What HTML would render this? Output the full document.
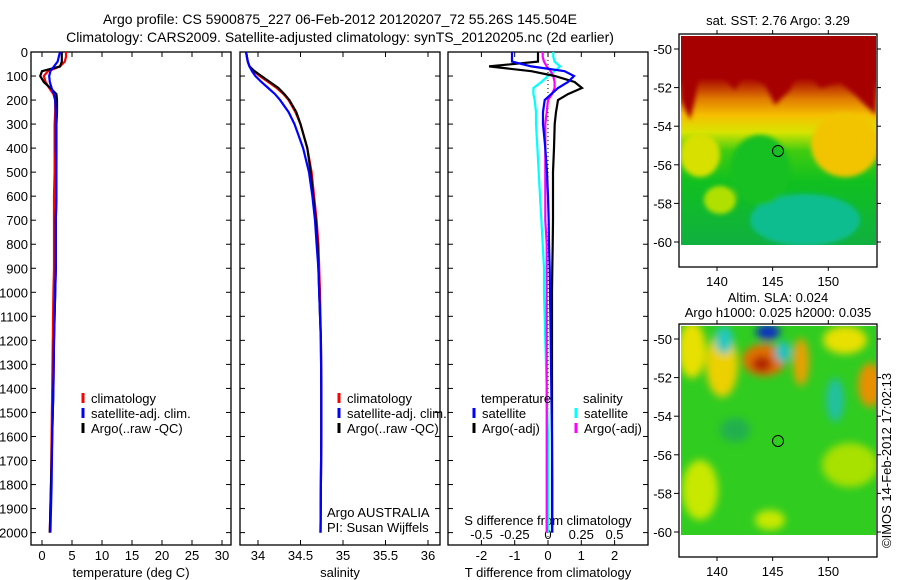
<!DOCTYPE html>
<html><head><meta charset="utf-8"><style>
body{margin:0;background:#fff}
svg{display:block;font-family:"Liberation Sans",sans-serif;font-size:13px}
</style></head><body>
<svg id="chart" width="900" height="580" viewBox="0 0 900 580">
<defs>
<filter id="blur4" x="-50%" y="-50%" width="200%" height="200%"><feGaussianBlur stdDeviation="4"/></filter>
<filter id="blur2"><feGaussianBlur stdDeviation="2.5"/></filter>
<linearGradient id="sstg" x1="0" y1="0" x2="0" y2="1">
<stop offset="0" stop-color="#a60000"/><stop offset="0.2" stop-color="#a60000"/>
<stop offset="0.3" stop-color="#e07a00"/><stop offset="0.38" stop-color="#f6c000"/>
<stop offset="0.46" stop-color="#d8e400"/><stop offset="0.55" stop-color="#40cc10"/>
<stop offset="0.7" stop-color="#10c020"/><stop offset="1" stop-color="#10b040"/>
</linearGradient>
<clipPath id="c1"><rect x="681" y="36" width="195" height="209"/></clipPath>
<clipPath id="c2"><rect x="681" y="326" width="195" height="209"/></clipPath>
</defs>
<g>
<text x="340" y="24" text-anchor="middle" font-size="14">Argo profile: CS 5900875_227 06-Feb-2012 20120207_72 55.26S 145.504E</text>
<text x="340" y="42" text-anchor="middle" font-size="14">Climatology: CARS2009. Satellite-adjusted climatology: synTS_20120205.nc (2d earlier)</text>
</g>
<g id="panels"></g>
<g>
<text x="778" y="25" text-anchor="middle">sat. SST: 2.76 Argo: 3.29</text>
<g clip-path="url(#c1)">
<rect x="681" y="36" width="195" height="209" fill="url(#sstg)"/>
<g filter="url(#blur2)">
<polygon points="681,36 876,36 876,115 865,105 855,95 840,82 820,88 810,75 800,70 790,90 775,105 765,85 755,78 745,72 735,90 722,75 712,72 700,70 695,100 690,120 681,100" fill="#a60000"/>
<ellipse cx="845" cy="145" rx="34" ry="32" fill="#f2c400"/>
<ellipse cx="700" cy="155" rx="20" ry="22" fill="#d8e000"/>
<ellipse cx="805" cy="220" rx="55" ry="26" fill="#10bd90"/>
<ellipse cx="760" cy="170" rx="30" ry="35" fill="#18c020"/>
<ellipse cx="720" cy="200" rx="16" ry="14" fill="#b0e000"/>
</g>
</g>
<circle cx="778" cy="151" r="5.5" fill="none" stroke="#000"/>
</g>
<g>
<text x="778" y="302" text-anchor="middle">Altim. SLA: 0.024</text>
<text x="778" y="317" text-anchor="middle">Argo h1000: 0.025 h2000: 0.035</text>
<g clip-path="url(#c2)">
<rect x="681" y="326" width="195" height="209" fill="#30cc20"/>
<g filter="url(#blur4)">
<ellipse cx="692" cy="350" rx="14" ry="28" fill="#e8e000"/>
<ellipse cx="722" cy="365" rx="16" ry="32" fill="#ecd000"/>
<ellipse cx="764" cy="360" rx="22" ry="16" fill="#e07000"/>
<ellipse cx="762" cy="364" rx="10" ry="8" fill="#b02000"/>
<ellipse cx="724" cy="340" rx="9" ry="14" fill="#20c8c0"/>
<ellipse cx="768" cy="332" rx="12" ry="8" fill="#1030c0"/>
<ellipse cx="783" cy="352" rx="8" ry="11" fill="#20c0c0"/>
<ellipse cx="801" cy="362" rx="8" ry="24" fill="#e8a000"/>
<ellipse cx="845" cy="340" rx="22" ry="14" fill="#e8e000"/>
<ellipse cx="870" cy="385" rx="12" ry="22" fill="#e89000"/>
<ellipse cx="835" cy="400" rx="9" ry="22" fill="#20c0a0"/>
<ellipse cx="850" cy="465" rx="28" ry="22" fill="#a8e000"/>
<ellipse cx="700" cy="490" rx="18" ry="30" fill="#c8e800"/>
<ellipse cx="770" cy="520" rx="15" ry="10" fill="#c8e800"/>
<ellipse cx="735" cy="430" rx="15" ry="12" fill="#20b050"/>
</g>
</g>
<circle cx="778" cy="441" r="5.5" fill="none" stroke="#000"/>
</g>
<g id="maps"></g>
<text transform="translate(891,548) rotate(-90)" font-size="13">©IMOS 14-Feb-2012 17:02:13</text>
</svg>
<script>
const depths=[0,20,40,60,80,100,125,150,175,200,250,300,400,500,600,700,800,900,1000,1200,1400,1600,1800,2000];
const tempClim=[4.0,4.0,3.8,3.0,1.0,0.3,0.6,1.2,1.9,2.2,2.2,2.1,2.1,2.1,2.0,2.0,2.0,2.0,1.9,1.8,1.7,1.6,1.5,1.3];
const tempSat=[3.0,2.8,2.6,2.0,1.4,1.2,1.3,1.6,2.0,2.2,2.3,2.3,2.3,2.4,2.4,2.3,2.3,2.3,2.2,2.0,1.9,1.7,1.6,1.4];
const tempArgo=[3.3,3.3,3.3,3.0,0.0,-0.3,0.3,1.4,2.4,2.5,2.5,2.4,2.4,2.4,2.4,2.3,2.3,2.3,2.2,2.0,1.9,1.7,1.5,1.3];
const salClim=[33.86,33.87,33.88,33.9,33.95,34.02,34.12,34.22,34.3,34.36,34.44,34.5,34.58,34.63,34.66,34.69,34.71,34.72,34.73,34.74,34.745,34.745,34.74,34.735];
const salSat=[33.86,33.87,33.88,33.9,33.93,33.97,34.04,34.12,34.2,34.26,34.36,34.43,34.53,34.6,34.64,34.67,34.69,34.71,34.72,34.74,34.745,34.745,34.74,34.735];
const salArgo=[33.86,33.87,33.88,33.9,33.96,34.04,34.14,34.24,34.31,34.37,34.45,34.5,34.58,34.62,34.65,34.68,34.7,34.71,34.72,34.74,34.745,34.745,34.74,34.735];
const dTSat=[-1.08,-1.08,-1.08,-0.5,0.5,0.78,0.6,0.3,0.1,-0.1,-0.15,-0.15,-0.08,-0.03,0.0,0.02,0.03,0.05,0.06,0.08,0.1,0.12,0.13,0.13];
const dTArgo=[-0.3,-0.3,-0.3,-1.77,-0.5,0.2,0.8,1.02,0.6,0.3,0.24,0.2,0.18,0.15,0.15,0.15,0.14,0.13,0.12,0.12,0.12,0.12,0.12,0.12];
const dSSat=[0.04,0.04,0.05,0.09,0.05,0.0,-0.05,-0.11,-0.11,-0.1,-0.09,-0.09,-0.08,-0.07,-0.06,-0.05,-0.04,-0.03,-0.03,-0.02,-0.01,0.0,0.0,0.0];
const dSArgo=[-0.04,-0.04,-0.03,-0.01,0.02,0.04,0.05,0.05,0.03,0.0,-0.01,-0.02,-0.02,-0.02,-0.02,-0.02,-0.01,-0.01,-0.01,-0.01,-0.01,-0.01,-0.01,-0.01];
const depthTicks=[0,100,200,300,400,500,600,700,800,900,1000,1100,1200,1300,1400,1500,1600,1700,1800,1900,2000];
const tempTicks=[0,5,10,15,20,25,30];
const salTicks=[34,34.5,35,35.5,36];
const salTickLabels=["34","34.5","35","35.5","36"];
const dTTicks=[-2,-1,0,1,2];
const dSTicks=[-0.5,-0.25,0,0.25,0.5];
const dSTickLabels=["-0.5","-0.25","0","0.25","0.5"];
const latTicks=[-50,-52,-54,-56,-58,-60];
const lonTicks=[140,145,150];

const NS='http://www.w3.org/2000/svg';
const top0=52, bot=545;
const y=d=>top0+d*0.2403;
const xT=v=>42+6*v;
const xS=v=>258+85*(v-34);
const xDT=v=>548+33.3*v;
const xDS=v=>548+133*v;
const G=document.getElementById('panels');
function el(tag,attrs,parent){const e=document.createElementNS(NS,tag);for(const k in attrs)e.setAttribute(k,attrs[k]);(parent||G).appendChild(e);return e;}
function txt(x,yy,s,anchor,parent){const t=el('text',{x:x,y:yy,'text-anchor':anchor||'start'},parent);t.textContent=s;return t;}

function frame(x0,x1,name){
  const g=el('g',{});
  
  
  el('rect',{x:x0,y:top0,width:x1-x0,height:bot-top0,fill:'none',stroke:'#000','stroke-width':1.3},g);
  depthTicks.forEach(d=>{
    el('line',{x1:x0,x2:x0+5,y1:y(d),y2:y(d),stroke:'#000'},g);
    el('line',{x1:x1-5,x2:x1,y1:y(d),y2:y(d),stroke:'#000'},g);
  });
  return g;
}
function xticks(g,vals,fx,labels,ly){
  vals.forEach((v,i)=>{
    el('line',{x1:fx(v),x2:fx(v),y1:bot,y2:bot-5,stroke:'#000'},g);
    el('line',{x1:fx(v),x2:fx(v),y1:top0,y2:top0+5,stroke:'#000'},g);
    if(labels) txt(fx(v),ly,labels[i],'middle',g);
  });
}
function line(g,vals,fx,color,name,w){
  const p=el('polyline',{points:vals.map((v,i)=>fx(v).toFixed(1)+','+y(depths[i]).toFixed(1)).join(' '),fill:'none',stroke:color,'stroke-width':w||2.2},g);
  
  
}
function legend(g,x,yy,items){
  items.forEach((it,i)=>{
    el('line',{x1:x,x2:x,y1:yy+i*15-10,y2:yy+i*15,stroke:it[1],'stroke-width':3},g);
    txt(x+8,yy+i*15,it[0],'start',g);
  });
}
let g1=frame(31,231,'temperature-panel');
const ya=el('g',{});


depthTicks.forEach(d=>txt(28,y(d)+5,String(d),'end',ya));
xticks(g1,tempTicks,xT,tempTicks.map(String),560);
txt(131,577,'temperature (deg C)','middle',g1);
line(g1,tempClim,xT,'#f00','temp-climatology-line');
line(g1,tempArgo,xT,'#000','temp-argo-line');
line(g1,tempSat,xT,'#00f','temp-satellite-line');
legend(g1,83,403,[['climatology','#f00'],['satellite-adj. clim.','#00f'],['Argo(..raw -QC)','#000']]);
let g2=frame(240,440,'salinity-panel');
xticks(g2,salTicks,xS,salTickLabels,560);
txt(340,577,'salinity','middle',g2);
line(g2,salClim,xS,'#f00','sal-climatology-line');
line(g2,salArgo,xS,'#000','sal-argo-line');
line(g2,salSat,xS,'#00f','sal-satellite-line');
legend(g2,339,403,[['climatology','#f00'],['satellite-adj. clim.','#00f'],['Argo(..raw -QC)','#000']]);
txt(327,517,'Argo AUSTRALIA','start',g2);
txt(327,532,'PI: Susan Wijffels','start',g2);
let g3=frame(448,648,'difference-panel');
el('line',{x1:548,x2:548,y1:top0,y2:bot,stroke:'#000','stroke-dasharray':'1,3'},g3);
xticks(g3,dTTicks,xDT,dTTicks.map(String),560);
dSTicks.forEach((v,i)=>txt(xDS(v),539,dSTickLabels[i],'middle',g3));
txt(548,525,'S difference from climatology','middle',g3);
txt(548,577,'T difference from climatology','middle',g3);
line(g3,dSSat,xDS,'#0ff','s-diff-satellite-line');
line(g3,dSArgo,xDS,'#f0f','s-diff-argo-line');
line(g3,dTArgo,xDT,'#000','t-diff-argo-line');
line(g3,dTSat,xDT,'#00f','t-diff-satellite-line');
txt(481,403,'temperature','start',g3);
txt(583,403,'salinity','start',g3);
legend(g3,474,418,[['satellite','#00f'],['Argo(-adj)','#000']]);
legend(g3,576,418,[['satellite','#0ff'],['Argo(-adj)','#f0f']]);
const M=document.getElementById('maps');
function mapAxes(t,b,lat0,name){
  const g=el('g',{},M);
  
  
  el('rect',{x:679,y:t,width:198,height:b-t,fill:'none',stroke:'#000','stroke-width':1.3},g);
  latTicks.forEach(v=>{const yy=lat0+(v+50)*-19.3;
    el('line',{x1:674,x2:679,y1:yy,y2:yy,stroke:'#000'},g);
    el('line',{x1:877,x2:881,y1:yy,y2:yy,stroke:'#000'},g);
    txt(672,yy+5,String(v),'end',g);});
  lonTicks.forEach(v=>{const xx=717+(v-140)*11.13;
    el('line',{x1:xx,x2:xx,y1:t-4,y2:t,stroke:'#000'},g);
    el('line',{x1:xx,x2:xx,y1:b,y2:b+4,stroke:'#000'},g);
    txt(xx,b+19,String(v),'middle',g);});
}
mapAxes(34,267,49,'sst-map-axes');
mapAxes(324,557,339,'sla-map-axes');
</script>
</body></html>
